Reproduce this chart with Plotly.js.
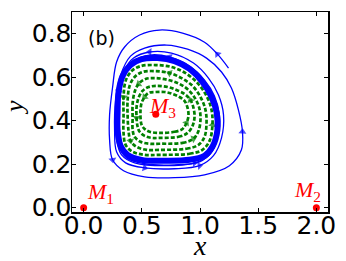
<!DOCTYPE html>
<html><head><meta charset="utf-8">
<script src="https://cdn.plot.ly/plotly-3.0.1.min.js"></script>
<style>html,body{margin:0;padding:0;background:#fff}#g{width:346px;height:261px}</style>
</head><body><div id="g"></div>
<script>
// Fixed points
const fixedX = [0, 2, 0.62];
const fixedY = [0, 0, 0.43];
const fixedNames = ['<i>M</i><sub>1</sub>', '<i>M</i><sub>2</sub>', '<i>M</i><sub>3</sub>'];
const labelX = [0.146, 1.923, 0.678];
const labelY = [0.069, 0.078, 0.463];

// Outer trajectory A (spirals inward onto the limit cycle)
const spiralAX = [1.245,1.150,1.039,0.850,0.652,0.481,0.352,0.283,0.249,0.223,0.223,0.249,0.343,0.524,0.781,1.039,1.253,1.356,1.365,1.330,1.270,1.185,1.056,0.893,0.712,0.524,0.403,0.318,0.275,0.266,0.283,0.361,0.524,0.781,0.996,1.116,1.185,1.202,1.159,1.073,0.944,0.755,0.567,0.429,0.352,0.300,0.283,0.300,0.369,0.524,0.781,0.996,1.099,1.159,1.159,1.107];
const spiralAY = [0.642,0.706,0.761,0.803,0.817,0.794,0.739,0.670,0.555,0.427,0.312,0.220,0.170,0.142,0.138,0.151,0.193,0.266,0.349,0.450,0.550,0.624,0.688,0.729,0.748,0.734,0.697,0.610,0.495,0.358,0.257,0.206,0.183,0.179,0.193,0.239,0.321,0.427,0.518,0.596,0.665,0.711,0.716,0.688,0.633,0.532,0.404,0.289,0.229,0.202,0.197,0.211,0.257,0.344,0.440,0.523];
const spiralAArrows = [1, 11, 18, 32, 34, 42, 45];

// Outer trajectory B
const spiralBX = [0.275,0.283,0.326,0.438,0.695,0.953,1.082,1.150,1.167,1.124,1.039,0.910,0.738,0.567,0.429,0.352,0.309,0.300];
const spiralBY = [0.450,0.312,0.243,0.206,0.193,0.206,0.243,0.321,0.427,0.514,0.587,0.651,0.693,0.702,0.674,0.624,0.532,0.404];
const spiralBArrows = [5, 12];

// Limit cycle
const cycleX = [0.695,0.910,1.039,1.107,1.150,1.142,1.099,1.021,0.910,0.781,0.635,0.498,0.403,0.335,0.300,0.292,0.292,0.318,0.378,0.498];
const cycleY = [0.216,0.220,0.239,0.280,0.358,0.440,0.509,0.578,0.638,0.674,0.688,0.683,0.656,0.606,0.532,0.440,0.358,0.284,0.243,0.220];

// Inner (dashed) trajectories
const g1X = [0.652,0.910,1.021,1.082,1.107,1.099,1.056,0.979,0.876,0.755,0.618,0.489,0.412,0.361,0.343,0.343,0.343,0.361,0.421,0.524];
const g1Y = [0.243,0.248,0.266,0.307,0.381,0.450,0.514,0.573,0.619,0.647,0.656,0.651,0.628,0.583,0.509,0.427,0.344,0.289,0.257,0.243];
const g2X = [0.652,0.884,0.987,1.039,1.056,1.047,1.004,0.936,0.841,0.738,0.618,0.506,0.438,0.395,0.378,0.378,0.386,0.403,0.455,0.541];
const g2Y = [0.266,0.271,0.289,0.326,0.390,0.450,0.509,0.560,0.596,0.619,0.628,0.624,0.601,0.560,0.495,0.422,0.353,0.307,0.280,0.266];
const g3X = [0.652,0.850,0.944,0.987,1.004,0.996,0.961,0.901,0.824,0.730,0.618,0.532,0.472,0.438,0.421,0.421,0.421,0.438,0.489,0.567];
const g3Y = [0.294,0.298,0.317,0.353,0.404,0.454,0.500,0.541,0.569,0.587,0.596,0.592,0.569,0.532,0.477,0.413,0.358,0.326,0.303,0.294];
const g4X = [0.652,0.815,0.893,0.936,0.953,0.944,0.918,0.867,0.798,0.721,0.627,0.558,0.506,0.472,0.455,0.455,0.464,0.481,0.524,0.584];
const g4Y = [0.321,0.326,0.344,0.376,0.417,0.459,0.495,0.523,0.541,0.555,0.560,0.555,0.537,0.505,0.463,0.413,0.372,0.349,0.330,0.321];
const g5X = [0.652,0.781,0.850,0.884,0.901,0.893,0.867,0.824,0.764,0.695,0.618,0.558,0.524,0.498,0.489,0.489,0.498,0.524,0.567];
const g5Y = [0.344,0.349,0.362,0.390,0.422,0.459,0.491,0.509,0.523,0.532,0.532,0.528,0.509,0.482,0.450,0.413,0.381,0.362,0.349];
const greenArrows = [[4, 14], [9, 17], [2, 12], [6, 15], [3, 12]];

const xTicks = [0, 0.5, 1, 1.5, 2];
const xTickText = ['0.0', '0.5', '1.0', '1.5', '2.0'];
const yTicks = [0, 0.2, 0.4, 0.6, 0.8];
const yTickText = ['0.0', '0.2', '0.4', '0.6', '0.8'];

function close(a) { return a.concat([a[0]]); }
function sizes(n, idx, s) { const r = new Array(n).fill(0); idx.forEach(i => r[i] = s); return r; }

const traces = [];
[[g1X, g1Y], [g2X, g2Y], [g3X, g3Y], [g4X, g4Y], [g5X, g5Y]].forEach((g, k) => {
  const x = close(g[0]), y = close(g[1]);
  traces.push({x, y, type: 'scatter', mode: 'lines+markers',
    line: {color: '#008000', width: 2.7, dash: '4px,2px', shape: 'spline', smoothing: 1},
    marker: {symbol: 'triangle-up', angleref: 'previous', color: '#008000', size: sizes(x.length, greenArrows[k], 7), line: {width: 0}},
    hoverinfo: 'skip'});
});
traces.push({x: close(cycleX), y: close(cycleY), type: 'scatter', mode: 'lines',
  line: {color: '#0000ff', width: 6, shape: 'spline', smoothing: 1}, hoverinfo: 'skip'});
traces.push({x: spiralAX, y: spiralAY, type: 'scatter', mode: 'lines+markers',
  line: {color: '#0000ff', width: 1.3, shape: 'spline', smoothing: 1},
  marker: {symbol: 'triangle-up', angleref: 'previous', color: '#0000ff', size: sizes(spiralAX.length, spiralAArrows, 7), line: {width: 0}},
  hoverinfo: 'skip'});
traces.push({x: spiralBX, y: spiralBY, type: 'scatter', mode: 'lines+markers',
  line: {color: '#0000ff', width: 1.3, shape: 'spline', smoothing: 1},
  marker: {symbol: 'triangle-up', angleref: 'previous', color: '#0000ff', size: sizes(spiralBX.length, spiralBArrows, 7), line: {width: 0}},
  hoverinfo: 'skip'});
traces.push({x: fixedX, y: fixedY, type: 'scatter', mode: 'markers',
  marker: {color: '#ff0000', size: 7}, cliponaxis: false, hoverinfo: 'skip'});

const annotations = fixedNames.map((t, i) => ({x: labelX[i], y: labelY[i], xref: 'x', yref: 'y',
  xanchor: 'center', yanchor: 'middle',
  text: t, showarrow: false, font: {family: 'Liberation Serif', size: 22, color: '#ff0000'}}));
annotations.push({x: 0.117, y: 0.872, xref: 'paper', yref: 'paper', xanchor: 'center', yanchor: 'middle',
  text: '(b)', showarrow: false, font: {family: 'DejaVu Sans', size: 19, color: '#000'}});
annotations.push({x: 0.5, y: -0.165, xref: 'paper', yref: 'paper', xanchor: 'center', yanchor: 'middle',
  text: '<i>x</i>', showarrow: false, font: {family: 'Liberation Serif', size: 28, color: '#000'}});
annotations.push({x: -0.222, y: 0.521, xref: 'paper', yref: 'paper', xanchor: 'center', yanchor: 'middle',
  text: '<i>y</i>', showarrow: false, textangle: -90, font: {family: 'Liberation Serif', size: 26, color: '#000'}});

const axisCommon = {showgrid: false, zeroline: false, showline: true, linecolor: '#000', linewidth: 1.5,
  mirror: 'ticks', ticks: 'inside', ticklen: 4, tickwidth: 1, tickcolor: '#000',
  tickfont: {family: 'DejaVu Sans', size: 25, color: '#000'}, tickmode: 'array'};

const layout = {
  width: 346, height: 261, margin: {l: 72, r: 18, t: 12, b: 49},
  paper_bgcolor: '#fff', plot_bgcolor: '#fff', showlegend: false,
  xaxis: Object.assign({}, axisCommon, {range: [-0.1, 2.1], tickvals: xTicks, ticktext: xTickText, ticklabelstandoff: -10}),
  yaxis: Object.assign({}, axisCommon, {range: [-0.02, 0.9], tickvals: yTicks, ticktext: yTickText, ticklabelstandoff: -6}),
  annotations
};
Plotly.newPlot('g', traces, layout, {staticPlot: true, displayModeBar: false});
</script></body></html>
